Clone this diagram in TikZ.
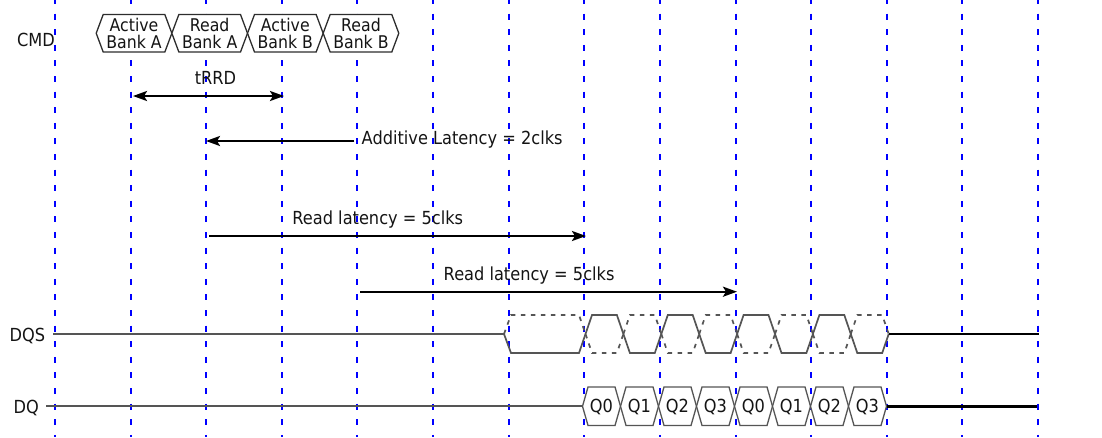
\documentclass[tikz,border=0pt]{standalone}
\usepackage{fontspec}
\setmainfont{DejaVu Sans}[FakeStretch=0.9]
\usetikzlibrary{arrows.meta}
\definecolor{wgray}{RGB}{85,85,85}
\definecolor{boxgray}{RGB}{45,45,45}
\definecolor{gridblue}{RGB}{0,0,255}
\definecolor{txtc}{RGB}{20,20,20}
\begin{document}
\begin{tikzpicture}[x=1pt,y=-1pt,
  gridline/.style={draw=gridblue, line width=2pt, dash pattern=on 6pt off 9.6pt, dash phase=2pt},
  wave/.style={draw=wgray, line width=1.7pt},
  wavedash/.style={wave, dash pattern=on 4.5pt off 5.5pt},
  busline/.style={draw=black, line width=2.4pt},
  hexbox/.style={draw=boxgray, line width=1.3pt, fill=white},
  dqbox/.style={draw=wgray, line width=1.3pt, fill=white},
  lat/.style={draw=black, line width=2.3pt, -{Stealth[length=14pt,width=10pt,inset=3pt]}},
  lat2/.style={draw=black, line width=2.3pt, {Stealth[length=14pt,width=10pt,inset=3pt]}-{Stealth[length=14pt,width=10pt,inset=3pt]}},
  txt/.style={font=\fontsize{18}{16.5}\selectfont, inner sep=0pt, text=txtc},
  boxtxt/.style={font=\fontsize{17.5}{16.5}\selectfont, inner sep=0pt, text=txtc, align=center},
]
\useasboundingbox (0,0) rectangle (1102,437);

% clock grid
\foreach \gx in {55,131,206,282,357,433,509,584,660,736,811,887,962,1038}
  \draw[gridline] (\gx,0) -- (\gx,437);

% CMD bus
\foreach \k/\a/\b in {0/Active/Bank A,1/Read/Bank A,2/Active/Bank B,3/Read/Bank B}{
  \pgfmathsetmacro\tl{96.2+75.65*\k}
  \pgfmathsetmacro\tr{\tl+75.65}
  \draw[hexbox] (\tl,33.25) -- ({\tl+7},14.5) -- ({\tr-7},14.5) -- (\tr,33.25)
     -- ({\tr-7},52) -- ({\tl+7},52) -- cycle;
  \node[boxtxt] (cmd\k) at ({(\tl+\tr)/2},33.5) {\a\\\b};
}
\node[txt, anchor=base east] (cmdlbl) at (55,46) {CMD};

% DQS
\node[txt, anchor=base west] (dqslbl) at (9.5,341) {DQS};
\coordinate (dqsL) at (53,334);
\coordinate (dqsS) at (504,334);
\draw[wave] (dqsL) -- (dqsS);
\pgfmathsetmacro\cz{585.5}
\draw[wavedash] (dqsS) -- (511,315) -- ({\cz-6.5},315) -- (\cz,334);
\draw[wave] (dqsS) -- (511,353) -- ({\cz-6.5},353) -- (\cz,334);
\foreach \j in {1,...,8}{
  \pgfmathsetmacro\l{585.5+37.9*(\j-1)}
  \pgfmathsetmacro\r{\l+37.9}
  \ifodd\j\relax
    \draw[wave] (\l,334) -- ({\l+6.5},315) -- ({\r-6.5},315) -- (\r,334);
    \draw[wavedash] (\l,334) -- ({\l+6.5},353) -- ({\r-6.5},353) -- (\r,334);
  \else
    \draw[wavedash] (\l,334) -- ({\l+6.5},315) -- ({\r-6.5},315) -- (\r,334);
    \draw[wave] (\l,334) -- ({\l+6.5},353) -- ({\r-6.5},353) -- (\r,334);
  \fi
}
\coordinate (dqsE) at (888.7,334);
\coordinate (dqsR) at (1039,334);
\draw[busline] (dqsE) -- (dqsR);

% DQ
\node[txt, anchor=base west] (dqlbl) at (13.5,413) {DQ};
\coordinate (dqL) at (46,406.3);
\coordinate (dqS) at (582.5,406.3);
\draw[wave] (dqL) -- (dqS);
\foreach \k/\q in {0/Q0,1/Q1,2/Q2,3/Q3,4/Q0,5/Q1,6/Q2,7/Q3}{
  \pgfmathsetmacro\l{582.5+38*\k}
  \pgfmathsetmacro\r{\l+38}
  \draw[dqbox] (\l,406.3) -- ({\l+5.5},387) -- ({\r-5.5},387) -- (\r,406.3)
     -- ({\r-5.5},425.5) -- ({\l+5.5},425.5) -- cycle;
  \node[txt] (dq\k) at ({(\l+\r)/2},406.5) {\q};
}
\coordinate (dqE) at (886.5,406.3);
\coordinate (dqR) at (1037,406.3);
\draw[busline] (dqE) -- (dqR);

% timing annotations
\node[txt, anchor=base] (trrd) at (215.5,84.5) {tRRD};
\coordinate (trrdA) at (133,96);
\coordinate (trrdB) at (284,96);
\draw[lat2] (trrdA) -- (trrdB);

\node[txt, anchor=base west] (al) at (361.5,144.5) {Additive Latency = 2clks};
\coordinate (alS) at (354.3,141);
\coordinate (alE) at (206,141);
\draw[lat] (alS) -- (alE);

\node[txt, anchor=base west] (rl1) at (292.2,224) {Read latency = 5clks};
\coordinate (rl1S) at (209,236);
\coordinate (rl1E) at (586,236);
\draw[lat] (rl1S) -- (rl1E);

\node[txt, anchor=base west] (rl2) at (443.5,280.7) {Read latency = 5clks};
\coordinate (rl2S) at (360,291.7);
\coordinate (rl2E) at (737,291.7);
\draw[lat] (rl2S) -- (rl2E);
\end{tikzpicture}
\end{document}
